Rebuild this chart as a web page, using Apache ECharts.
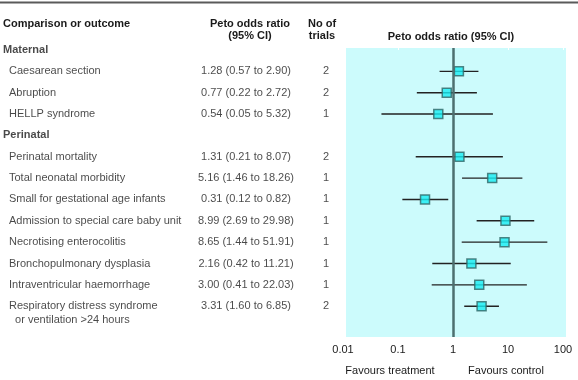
<!DOCTYPE html>
<html>
<head>
<meta charset="utf-8">
<script src="https://cdn.jsdelivr.net/npm/echarts@6/dist/echarts.min.js"></script>
<style>
  html, body { margin: 0; padding: 0; background: #fff; }
  #chart { width: 578px; height: 380px; }
</style>
</head>
<body>
<div id="chart"></div>
<script>
// rows of the table, top to bottom (section headings have no estimate)
var rowLabels = [
  'Maternal',
  'Caesarean section',
  'Abruption',
  'HELLP syndrome',
  'Perinatal',
  'Perinatal mortality',
  'Total neonatal morbidity',
  'Small for gestational age infants',
  'Admission to special care baby unit',
  'Necrotising enterocolitis',
  'Bronchopulmonary dysplasia',
  'Intraventricular haemorrhage',
  'Respiratory distress syndrome\n  or ventilation >24 hours'
];
var isHeading = [true, false, false, false, true, false, false, false, false, false, false, false, false];
var oddsRatio = [null, 1.28, 0.77, 0.54, null, 1.31, 5.16, 0.31, 8.99, 8.65, 2.16, 3.00, 3.31];
var ciLow     = [null, 0.57, 0.22, 0.05, null, 0.21, 1.46, 0.12, 2.69, 1.44, 0.42, 0.41, 1.60];
var ciHigh    = [null, 2.90, 2.72, 5.32, null, 8.07, 18.26, 0.82, 29.98, 51.91, 11.21, 22.03, 6.85];
var nTrials   = [null, 2, 2, 1, null, 2, 1, 1, 1, 1, 1, 1, 2];
var xTicks = [0.01, 0.1, 1, 10, 100];

var FONT = "'Liberation Sans Narrow', 'Arial Narrow', 'Liberation Sans', Arial, sans-serif";
var INK = '#1a1a1a';

var myChart = echarts.init(document.getElementById('chart'));

var labelData = [], valueData = [], trialData = [], ciData = [], pointData = [];
for (var i = 0; i < rowLabels.length; i++) {
  var multi = rowLabels[i].indexOf('\n') >= 0;
  labelData.push({
    value: [isHeading[i] ? 3 : 9, i],
    name: rowLabels[i],
    label: {
      fontWeight: isHeading[i] ? 'bold' : 'normal',
      verticalAlign: multi ? 'top' : 'middle',
      offset: multi ? [0, -7] : [0, 0]
    }
  });
  if (oddsRatio[i] == null) continue;
  valueData.push({
    value: [246, i],
    name: oddsRatio[i].toFixed(2) + ' (' + ciLow[i].toFixed(2) + ' to ' + ciHigh[i].toFixed(2) + ')'
  });
  trialData.push({ value: [326, i], name: String(nTrials[i]) });
  ciData.push([ciLow[i], ciHigh[i], i]);
  pointData.push([oddsRatio[i], i]);
}

function textSeries(data, align) {
  return {
    type: 'scatter',
    xAxisIndex: 0,
    yAxisIndex: 0,
    symbolSize: 0,
    silent: true,
    data: data,
    label: {
      show: true,
      position: [0, 0],
      align: align,
      verticalAlign: 'middle',
      formatter: function (p) { return p.name; },
      fontFamily: FONT,
      fontSize: 11,
      lineHeight: 14,
      color: INK
    }
  };
}

var yRange = { min: -0.094, max: 13.442 };

var option = {
  animation: false,
  textStyle: { fontFamily: FONT },
  grid: [
    { left: 0, width: 340, top: 48, bottom: 43 },
    { left: 343, right: 15, top: 48, bottom: 43 }
  ],
  xAxis: [
    { gridIndex: 0, type: 'value', min: 0, max: 340, show: false },
    {
      gridIndex: 1, type: 'log', logBase: 10, min: xTicks[0], max: xTicks[xTicks.length - 1],
      axisLine: { show: false },
      axisTick: { show: true, inside: true, length: 6, lineStyle: { color: '#ffffff', width: 1 } },
      splitLine: { show: false },
      axisLabel: {
        margin: 7, fontSize: 11, color: INK, fontFamily: FONT,
        formatter: function (v) { return String(v); }
      }
    }
  ],
  yAxis: [
    { gridIndex: 0, type: 'value', inverse: true, min: yRange.min, max: yRange.max, show: false },
    { gridIndex: 1, type: 'value', inverse: true, min: yRange.min, max: yRange.max, show: false }
  ],
  graphic: [
    // shaded plot panel (slightly offset from the axis ends, as in the source figure)
    { type: 'rect', z: -10, shape: { x: 346, y: 48, width: 220, height: 289 }, style: { fill: '#ccfbfc' } },
    { type: 'line', shape: { x1: 0, y1: 2.5, x2: 578, y2: 2.5 }, style: { stroke: '#5a5a5a', lineWidth: 2 } },
    { type: 'text', x: 3, y: 24, style: { text: 'Comparison or outcome', font: 'bold 11px ' + FONT, fill: INK, verticalAlign: 'middle' } },
    { type: 'text', x: 250, y: 18, style: { text: 'Peto odds ratio\n(95% CI)', font: 'bold 11px ' + FONT, fill: INK, align: 'center', verticalAlign: 'top', lineHeight: 12 } },
    { type: 'text', x: 322, y: 18, style: { text: 'No of\ntrials', font: 'bold 11px ' + FONT, fill: INK, align: 'center', verticalAlign: 'top', lineHeight: 12 } },
    { type: 'text', x: 451, y: 37, style: { text: 'Peto odds ratio (95% CI)', font: 'bold 11px ' + FONT, fill: INK, align: 'center', verticalAlign: 'middle' } },
    { type: 'text', x: 390, y: 371, style: { text: 'Favours treatment', font: '11px ' + FONT, fill: INK, align: 'center', verticalAlign: 'middle' } },
    { type: 'text', x: 506, y: 371, style: { text: 'Favours control', font: '11px ' + FONT, fill: INK, align: 'center', verticalAlign: 'middle' } }
  ],
  series: [
    textSeries(labelData, 'left'),
    textSeries(valueData, 'center'),
    textSeries(trialData, 'center'),
    {
      type: 'custom',
      xAxisIndex: 1,
      yAxisIndex: 1,
      silent: true,
      data: ciData,
      renderItem: function (params, api) {
        var a = api.coord([api.value(0), api.value(2)]);
        var b = api.coord([api.value(1), api.value(2)]);
        return {
          type: 'line',
          shape: { x1: a[0], y1: a[1], x2: b[0], y2: b[1] },
          style: { stroke: '#222222', lineWidth: 1.4 }
        };
      },
      markLine: {
        silent: true,
        symbol: 'none',
        label: { show: false },
        lineStyle: { color: '#4d6f6f', width: 2.5, type: 'solid' },
        data: [{ xAxis: 1 }]
      },
      z: 2
    },
    {
      type: 'scatter',
      xAxisIndex: 1,
      yAxisIndex: 1,
      symbol: 'rect',
      symbolSize: 9,
      silent: true,
      data: pointData,
      itemStyle: { color: '#18eef2', borderColor: '#2f6767', borderWidth: 1.5 },
      z: 3
    }
  ]
};

myChart.setOption(option);
window.onresize = function () {
  myChart.resize();
};
</script>
</body>
</html>
